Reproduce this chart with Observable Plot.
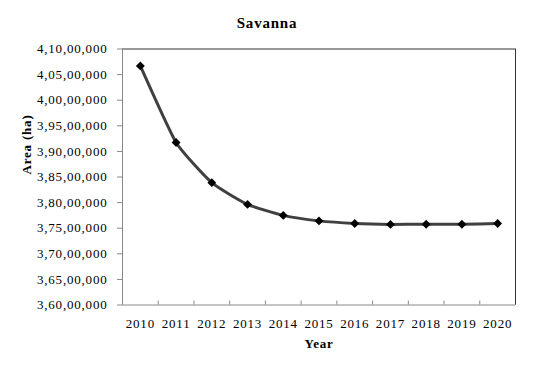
<!DOCTYPE html>
<html>
<head>
<meta charset="utf-8">
<script src="https://cdn.jsdelivr.net/npm/d3@7"></script>
<script src="https://cdn.jsdelivr.net/npm/@observablehq/plot@0.6"></script>
<style>
  html, body { margin: 0; padding: 0; background: #fff; }
  #chart svg text { letter-spacing: 0.8px; }
</style>
</head>
<body>
<div id="chart"></div>
<script>
const title = "Savanna";
const xLabel = "Year";
const yLabel = "Area (ha)";
const years = [2010, 2011, 2012, 2013, 2014, 2015, 2016, 2017, 2018, 2019, 2020];
const area = [40670000, 39175000, 38390000, 37965000, 37750000, 37643000, 37593000, 37574000, 37578000, 37578000, 37592000];
const yTicks = [36000000, 36500000, 37000000, 37500000, 38000000, 38500000, 39000000, 39500000, 40000000, 40500000, 41000000];
const yTickLabels = ["3,60,00,000", "3,65,00,000", "3,70,00,000", "3,75,00,000", "3,80,00,000", "3,85,00,000", "3,90,00,000", "3,95,00,000", "4,00,00,000", "4,05,00,000", "4,10,00,000"];

const data = years.map((y, i) => ({year: y, value: area[i]}));
const labelOf = new Map(yTicks.map((v, i) => [v, yTickLabels[i]]));
const xMin = years[0] - 0.5, xMax = years[years.length - 1] + 0.5;
const edges = [...years.map(y => y - 0.5), xMax];
const yMin = yTicks[0], yMax = yTicks[yTicks.length - 1];

const mt = 48.5, mb = 66.5, H = 371;
const innerH = H - mt - mb;

const chart = Plot.plot({
  width: 533,
  height: H,
  marginTop: mt,
  marginBottom: mb,
  marginLeft: 122,
  marginRight: 18,
  style: {fontFamily: "'Liberation Serif', 'Times New Roman', serif", fontSize: "13px", background: "#fff", color: "#000", overflow: "visible"},
  x: {type: "linear", domain: [xMin, xMax]},
  y: {domain: [yMin, yMax]},
  marks: [
    Plot.axisY({ticks: yTicks, tickFormat: d => labelOf.get(d), tickSize: 5, tickPadding: 10, stroke: "#888", fill: "#000", fontSize: 13, label: null}),
    Plot.axisX({ticks: years, tickFormat: d => String(d), tickSize: 0, tickPadding: 14, fontSize: 13, fill: "#000", label: null}),
    Plot.ruleX(edges, {stroke: "#888", insetTop: innerH - 4}),
    Plot.ruleY([yMax], {stroke: "#333"}),
    Plot.ruleX([xMax], {stroke: "#333"}),
    Plot.ruleX([xMin], {stroke: "#888"}),
    Plot.ruleY([yMin], {stroke: "#888"}),
    Plot.line(data, {x: "year", y: "value", curve: "cardinal", tension: 0.5, stroke: "#404040", strokeWidth: 3}),
    Plot.dot(data, {x: "year", y: "value", symbol: "diamond2", r: 4, fill: "#000", stroke: "none"}),
    Plot.text([title], {frameAnchor: "top", dx: -52, dy: -21.5, lineAnchor: "bottom", fontSize: 15, fontWeight: "bold", fill: "#000"}),
    Plot.text([xLabel], {frameAnchor: "bottom", dy: 43, lineAnchor: "bottom", fontSize: 13, fontWeight: "bold", fill: "#000"}),
    Plot.text([yLabel], {frameAnchor: "left", dx: -92, dy: -2.5, rotate: -90, lineAnchor: "bottom", fontSize: 13, fontWeight: "bold", fill: "#000"})
  ]
});
document.getElementById("chart").appendChild(chart);
</script>
</body>
</html>
